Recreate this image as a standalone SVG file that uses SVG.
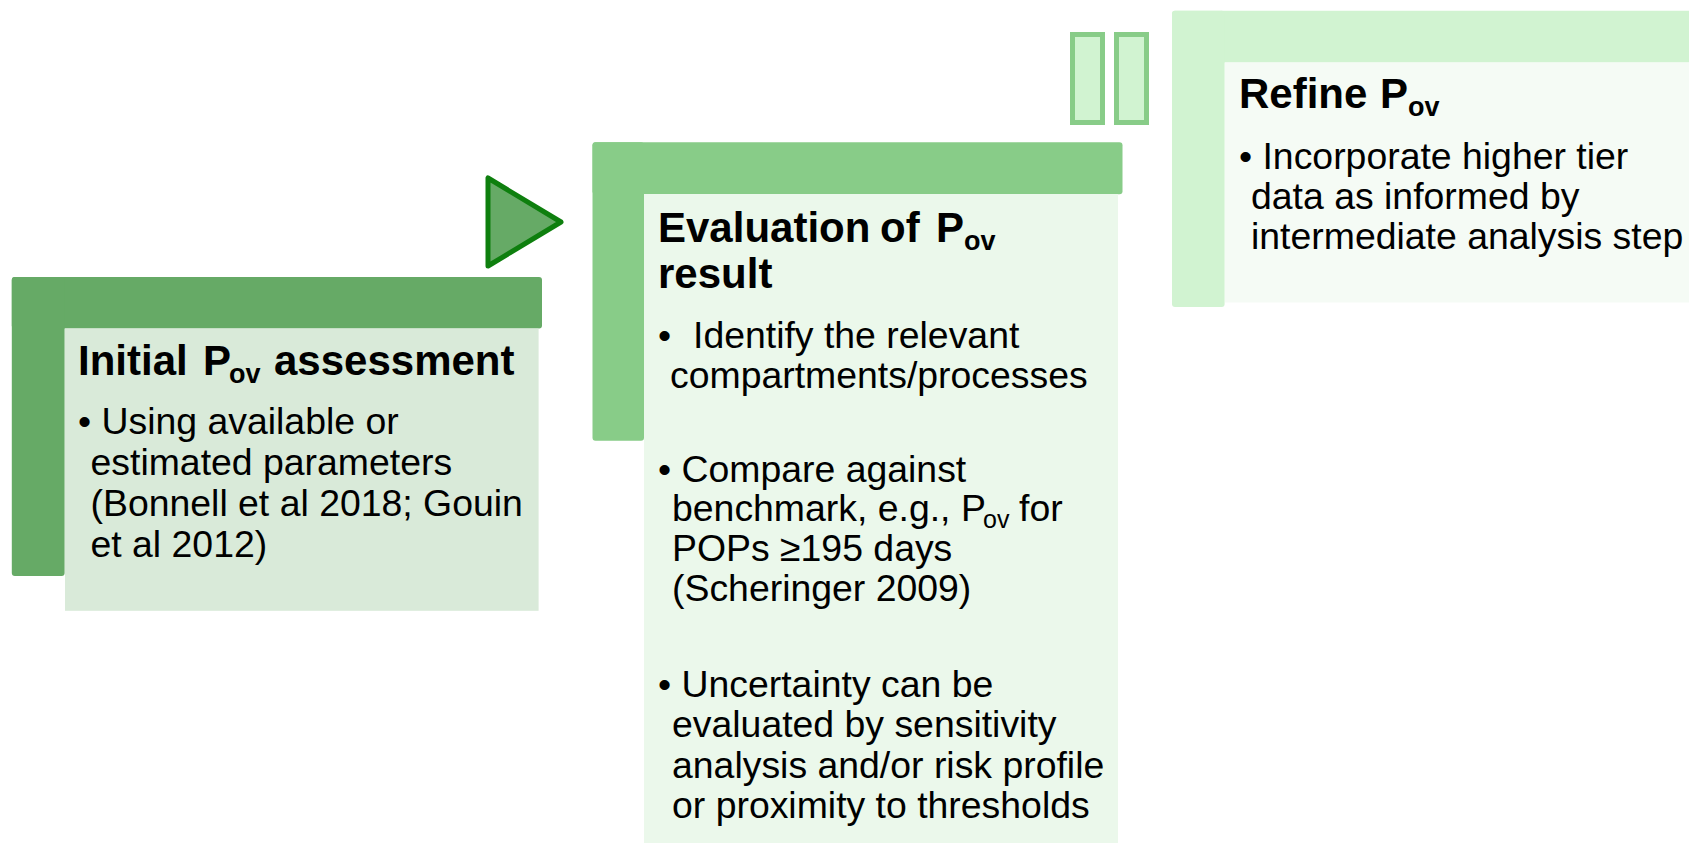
<svg xmlns="http://www.w3.org/2000/svg" width="1689" height="846" viewBox="0 0 1689 846">
<style>
.t{font-family:"Liberation Sans",Arial,sans-serif;fill:#000}
.h{font-size:42px;font-weight:bold}
.hs{font-size:27px;font-weight:bold}
.b{font-size:37.4px}
.bs{font-size:25px}
.l1{fill:#66aa66}
.l2{fill:#88cc88}
.l3{fill:#d1f3d1}
</style>
<rect width="1689" height="846" fill="#ffffff"/>
<g id="connectors">
  <polygon points="488,178 488,266 561,222" fill="#66aa66" stroke="#0e7f0e" stroke-width="5" stroke-linejoin="round"/>
  <rect x="1072.5" y="34.5" width="30" height="88" fill="#d1f3d1" stroke="#88cc88" stroke-width="5"/>
  <rect x="1116.5" y="34.5" width="30" height="88" fill="#d1f3d1" stroke="#88cc88" stroke-width="5"/>
</g>
<g id="node-initial">
  <rect class="l1" x="11.8" y="277" width="530.2" height="51.5" rx="3"/>
  <rect class="l1" x="11.8" y="277" width="52.8" height="299" rx="3"/>
  <rect x="65" y="328.5" width="473.6" height="282.3" fill="#d9ead9"/>
  <text class="t h" y="375"><tspan x="78">Initial</tspan><tspan x="203">P</tspan><tspan class="hs" x="229" dy="8">ov</tspan><tspan x="274" dy="-8">assessment</tspan></text>
  <text class="t b"><tspan x="78" y="434">• Using available or</tspan><tspan x="90.5" y="475">estimated parameters</tspan><tspan x="90.5" y="516">(Bonnell et al 2018; Gouin</tspan><tspan x="90.5" y="557">et al 2012)</tspan></text>
</g>
<g id="node-evaluation">
  <rect class="l2" x="592.5" y="142.2" width="530" height="52" rx="3"/>
  <rect class="l2" x="592.5" y="142.2" width="51.5" height="298.5" rx="3"/>
  <rect x="644" y="194" width="474" height="649" fill="#ebf8eb"/>
  <text class="t h" y="242"><tspan x="658">Evaluation</tspan><tspan x="880">of</tspan><tspan x="936">P</tspan><tspan class="hs" x="964" dy="8">ov</tspan></text>
  <text class="t h" x="658" y="288">result</text>
  <text class="t b"><tspan x="658" y="348">•</tspan><tspan x="693" y="348">Identify the relevant</tspan><tspan x="670" y="388">compartments/processes</tspan></text>
  <text class="t b"><tspan x="658" y="482">• Compare against</tspan><tspan x="672" y="521">benchmark, e.g., P</tspan><tspan class="bs" x="983" y="528">ov</tspan><tspan x="1019" y="521">for</tspan><tspan x="672" y="561">POPs ≥195 days</tspan><tspan x="672" y="601">(Scheringer 2009)</tspan></text>
  <text class="t b"><tspan x="658" y="697">• Uncertainty can be</tspan><tspan x="672" y="737">evaluated by sensitivity</tspan><tspan x="672" y="778">analysis and/or risk profile</tspan><tspan x="672" y="818">or proximity to thresholds</tspan></text>
</g>
<g id="node-refine">
  <rect class="l3" x="1172" y="10.8" width="530" height="51.7" rx="3"/>
  <rect class="l3" x="1172" y="10.8" width="52.6" height="296.2" rx="3"/>
  <rect x="1225" y="62.5" width="470" height="240" fill="#f5fbf5"/>
  <text class="t h" y="108"><tspan x="1239">Refine</tspan><tspan x="1380">P</tspan><tspan class="hs" x="1408" dy="8">ov</tspan></text>
  <text class="t b"><tspan x="1239" y="169">• Incorporate higher tier</tspan><tspan x="1251" y="209">data as informed by</tspan><tspan x="1251" y="249">intermediate analysis step</tspan></text>
</g>
</svg>
